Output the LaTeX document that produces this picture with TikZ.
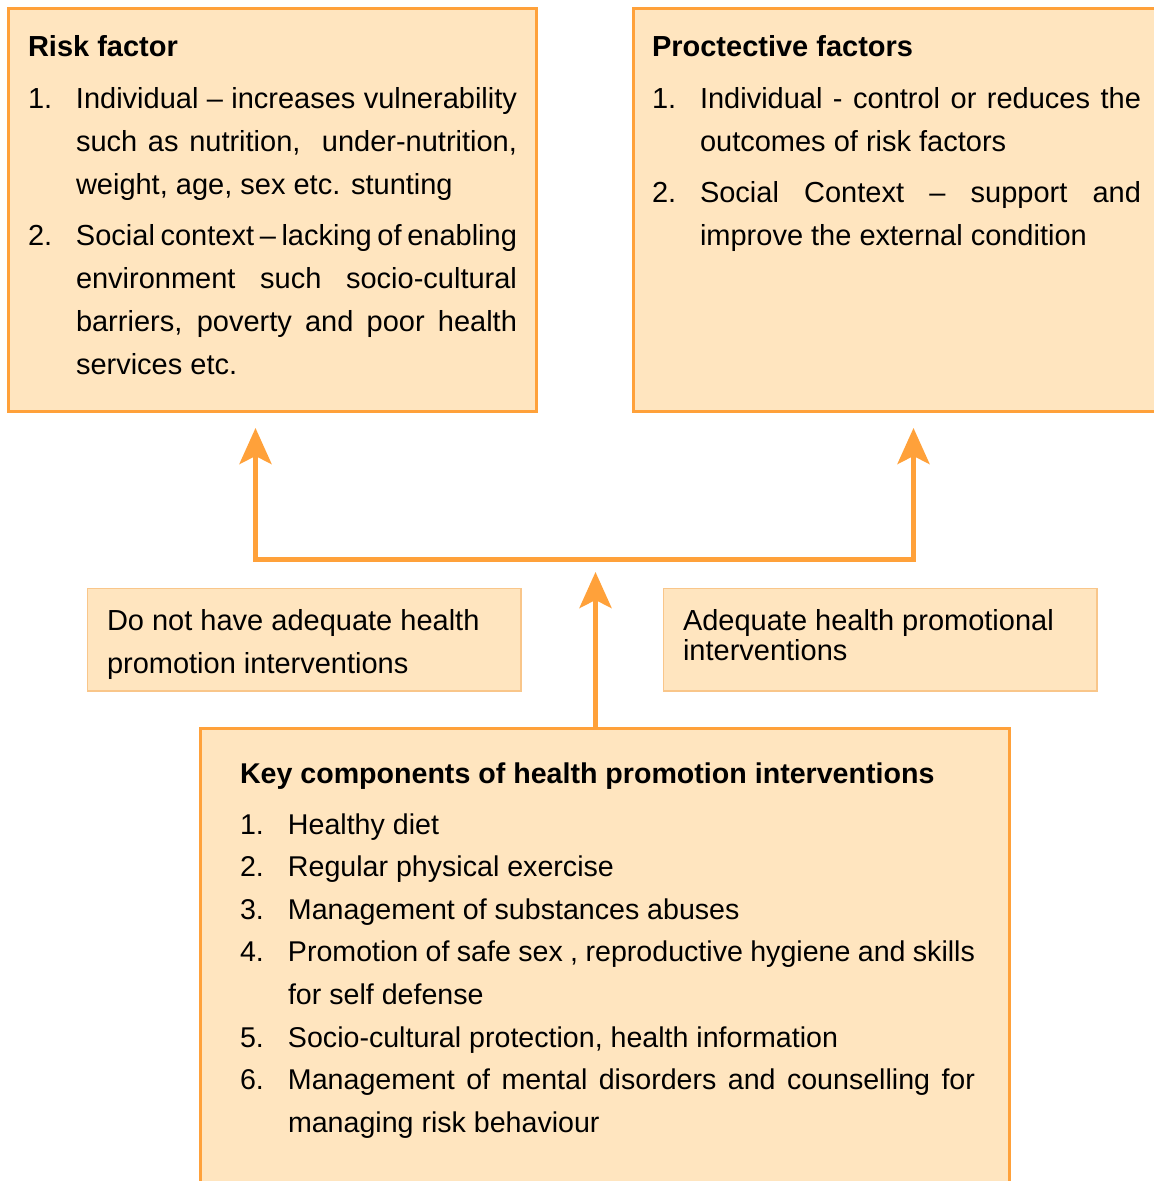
\documentclass[tikz,border=0pt]{standalone}
\usepackage{fontspec}
\setmainfont{Liberation Sans}
\usetikzlibrary{arrows.meta}
\definecolor{boxfill}{HTML}{FFE5BF}
\definecolor{boxline}{HTML}{FFA13A}
\definecolor{softline}{HTML}{F9C68A}
\newcommand\numitem[2]{\par\noindent\hangindent=48pt\hangafter=1\makebox[48pt][l]{#1}#2}
\newcommand\listbox[3]{\vtop{\hsize=#1\parindent=0pt\parskip=#2\relax #3\par}}
\begin{document}
\begin{tikzpicture}[x=1pt,y=-1pt,
  bigbox/.style={draw=boxline,line width=3pt,fill=boxfill,inner sep=0pt,outer sep=0pt,anchor=north west},
  smallbox/.style={draw=softline,line width=1.2pt,fill=boxfill,inner sep=0pt,outer sep=0pt,anchor=north west},
  txt/.style={anchor=base west,inner sep=0pt,outer sep=0pt,font=\fontsize{29}{43}\selectfont},
  ttl/.style={txt,font=\fontsize{29}{43}\selectfont\bfseries},
  flow/.style={draw=boxline,line width=5pt},
  >={Stealth[length=36pt,width=32pt,inset=8pt]}
]
\useasboundingbox (0,0) rectangle (1154,1181);

% boxes
\node[bigbox,minimum width=528pt,minimum height=403pt] (risk) at (8.5,8.5) {};
\node[bigbox,minimum width=527pt,minimum height=403pt] (prot) at (633.5,8.5) {};
\node[bigbox,minimum width=809.5pt,minimum height=480pt] (key) at (200,728) {};
\node[smallbox,minimum width=433.5pt,minimum height=102.5pt] (noint) at (87.5,588.5) {};
\node[smallbox,minimum width=433.5pt,minimum height=102.5pt] (adint) at (663.5,588.5) {};

% risk factor text
\node[ttl] (risktitle) at (28,56.5) {Risk factor};
\node[txt] (risktext) at (28,108) {\listbox{489pt}{8.5pt}{%
\numitem{1.}{Individual -- increases vulnerability\linebreak such as nutrition,\ \ under-nutrition,\linebreak weight, age, sex etc. stunting}
\numitem{2.}{Social context -- lacking of enabling\linebreak environment such socio-cultural\linebreak barriers, poverty and poor health\linebreak services etc.}}};

% protective factors text
\node[ttl] (prottitle) at (652,56.5) {Proctective factors};
\node[txt] (prottext) at (652,108) {\listbox{489pt}{8.5pt}{%
\numitem{1.}{Individual - control or reduces the\linebreak outcomes of risk factors}
\numitem{2.}{Social Context -- support and\linebreak improve the external condition}}};

% middle boxes text
\node[txt] (nointtext) at (107,630) {\listbox{420pt}{0pt}{Do not have adequate health\par promotion interventions}};
\node[txt,font=\fontsize{29}{30}\selectfont] (adinttext) at (683,630) {\listbox{420pt}{0pt}{Adequate health promotional\par interventions}};

% key components text
\node[ttl,font=\fontsize{28.6}{42.6}\selectfont\bfseries] (keytitle) at (240,783) {Key components of health promotion interventions};
\node[txt,font=\fontsize{28.6}{42.6}\selectfont] (keytext) at (240,834) {\listbox{735pt}{0pt}{%
\numitem{1.}{Healthy diet}
\numitem{2.}{Regular physical exercise}
\numitem{3.}{Management of substances abuses}
\numitem{4.}{Promotion of safe sex , reproductive hygiene and skills\linebreak for self defense}
\numitem{5.}{Socio-cultural protection, health information}
\numitem{6.}{Management of mental disorders and counselling for\linebreak managing risk behaviour}}};

% connectors
\coordinate (cL) at (255.5,559.5);
\coordinate (cR) at (913.5,559.5);
\coordinate (tL) at (255.5,428);
\coordinate (tR) at (913.5,428);
\coordinate (tC) at (595.5,572);
\draw[flow,<->] (tL) -- (cL) -- (cR) -- (tR);
\draw[flow,->] (key.north -| tC) -- (tC);
\end{tikzpicture}
\end{document}
